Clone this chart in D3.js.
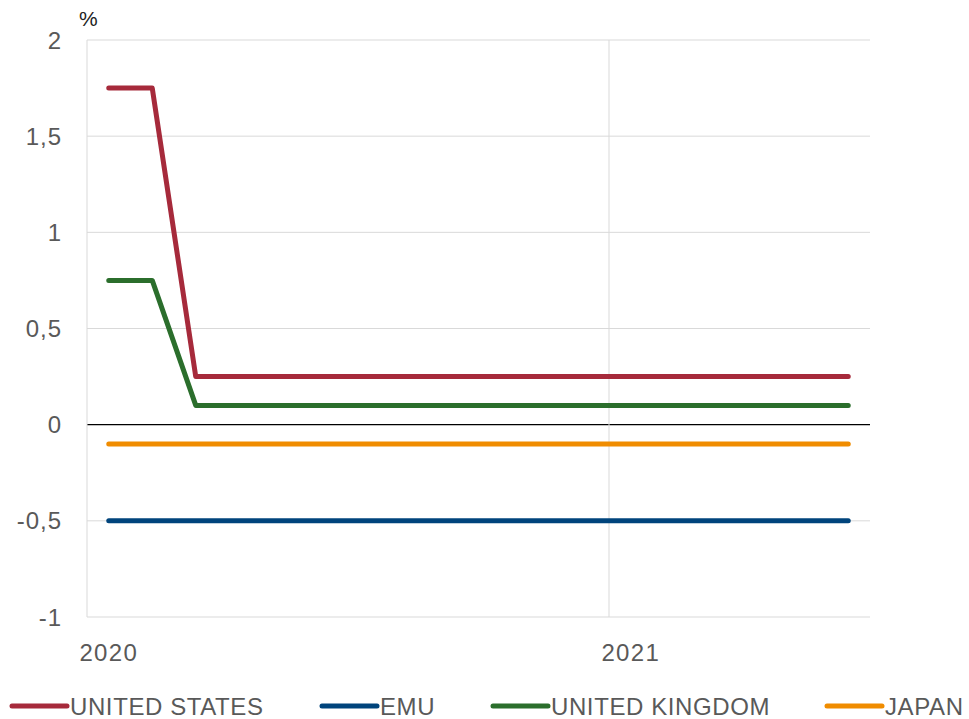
<!DOCTYPE html>
<html>
<head>
<meta charset="utf-8">
<script src="https://cdn.jsdelivr.net/npm/d3@7"></script>
<style>
  body { margin: 0; background: #fff; }
  text { font-family: "Liberation Sans", Arial, sans-serif; fill: #595959; }
</style>
</head>
<body>
<div id="chart"></div>
<script>
// maanden jan 2020 - jun 2021
const months = ["2020-01","2020-02","2020-03","2020-04","2020-05","2020-06","2020-07","2020-08","2020-09",
  "2020-10","2020-11","2020-12","2021-01","2021-02","2021-03","2021-04","2021-05","2021-06"];
const xLabels = { "2020-01": "2020", "2021-01": "2021" };

// beleidsrentes in %
const unitedStates = [1.75,1.75,0.25,0.25,0.25,0.25,0.25,0.25,0.25,0.25,0.25,0.25,0.25,0.25,0.25,0.25,0.25,0.25];
const emu = [-0.5,-0.5,-0.5,-0.5,-0.5,-0.5,-0.5,-0.5,-0.5,-0.5,-0.5,-0.5,-0.5,-0.5,-0.5,-0.5,-0.5,-0.5];
const unitedKingdom = [0.75,0.75,0.1,0.1,0.1,0.1,0.1,0.1,0.1,0.1,0.1,0.1,0.1,0.1,0.1,0.1,0.1,0.1];
const japan = [-0.1,-0.1,-0.1,-0.1,-0.1,-0.1,-0.1,-0.1,-0.1,-0.1,-0.1,-0.1,-0.1,-0.1,-0.1,-0.1,-0.1,-0.1];

const yTicks = [-1, -0.5, 0, 0.5, 1, 1.5, 2];

const series = [
  { name: "UNITED STATES", values: unitedStates, color: "#a62a3b" },
  { name: "EMU", values: emu, color: "#00447c" },
  { name: "UNITED KINGDOM", values: unitedKingdom, color: "#2b6e2c" },
  { name: "JAPAN", values: japan, color: "#f08c00" }
];

const width = 969, height = 719;
const plot = { left: 87, right: 870, top: 40, bottom: 617 };

const svg = d3.select("#chart").append("svg")
  .attr("width", width)
  .attr("height", height);

const x = d3.scaleBand().domain(months).range([plot.left, plot.right]);
const y = d3.scaleLinear().domain([-1, 2]).range([plot.bottom, plot.top]);

const fmt = d => String(d).replace(".", ",");

// horizontale gridlijnen
svg.append("g")
  .selectAll("line")
  .data(yTicks)
  .join("line")
  .attr("x1", plot.left).attr("x2", plot.right)
  .attr("y1", d => y(d)).attr("y2", d => y(d))
  .attr("stroke", d => d === 0 ? "#000" : "#d9d9d9")
  .attr("stroke-width", d => d === 0 ? 1.3 : 1);

// verticale gridlijnen (jaargrenzen)
svg.append("g")
  .selectAll("line")
  .data(Object.keys(xLabels))
  .join("line")
  .attr("x1", d => x(d)).attr("x2", d => x(d))
  .attr("y1", plot.top).attr("y2", plot.bottom)
  .attr("stroke", "#d9d9d9");

// y labels
svg.append("g")
  .selectAll("text")
  .data(yTicks)
  .join("text")
  .attr("x", 62)
  .attr("y", d => y(d))
  .attr("dy", "0.36em")
  .attr("text-anchor", "end")
  .style("font-size", "24px")
  .style("letter-spacing", "1px")
  .text(fmt);

svg.append("text")
  .attr("x", 79).attr("y", 26)
  .style("font-size", "21px")
  .style("fill", "#222")
  .text("%");

// x labels
svg.append("g")
  .selectAll("text")
  .data(Object.keys(xLabels))
  .join("text")
  .attr("x", d => x(d) + x.bandwidth() / 2)
  .attr("y", 661)
  .attr("text-anchor", "middle")
  .style("font-size", "24px")
  .style("letter-spacing", "1.3px")
  .text(d => xLabels[d]);

// lijnen
const line = d3.line()
  .x((d, i) => x(months[i]) + x.bandwidth() / 2)
  .y(d => y(d));

svg.append("g")
  .selectAll("path")
  .data([series[1], series[3], series[2], series[0]])
  .join("path")
  .attr("d", d => line(d.values))
  .attr("fill", "none")
  .attr("stroke", d => d.color)
  .attr("stroke-width", 5)
  .attr("stroke-linecap", "round")
  .attr("stroke-linejoin", "round");

// legenda
const legendX = [12, 322, 493, 827];
const leg = svg.append("g")
  .selectAll("g")
  .data(series)
  .join("g")
  .attr("transform", (d, i) => "translate(" + legendX[i] + ",706)");

leg.append("line")
  .attr("x1", 0).attr("x2", 55)
  .attr("stroke", d => d.color)
  .attr("stroke-width", 5)
  .attr("stroke-linecap", "round");

leg.append("text")
  .attr("x", 58)
  .attr("dy", "0.36em")
  .style("font-size", "24px")
  .style("letter-spacing", "0.6px")
  .text(d => d.name);
</script>
</body>
</html>
